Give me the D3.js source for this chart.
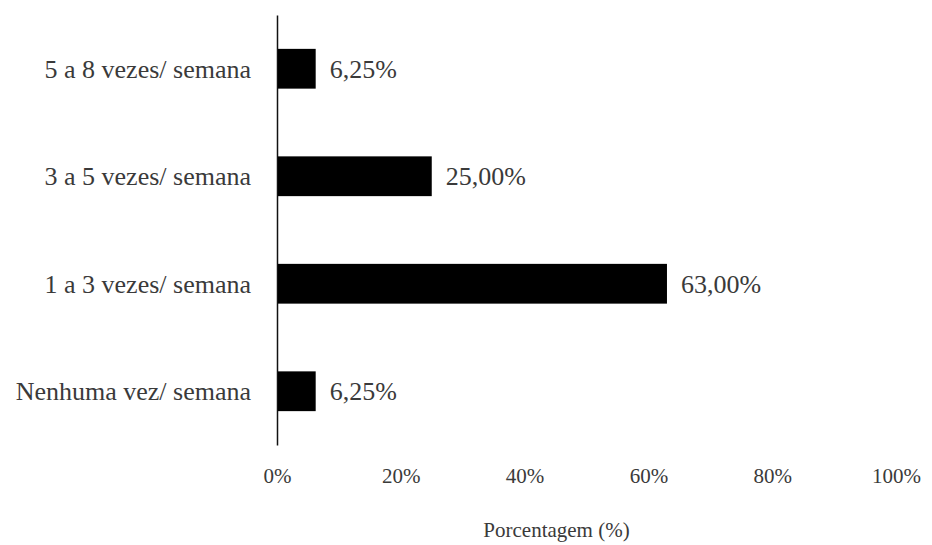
<!DOCTYPE html>
<html>
<head>
<meta charset="utf-8">
<script src="https://cdn.jsdelivr.net/npm/d3@7"></script>
</head>
<body style="margin:0; background:#fff">
<div id="chart"></div>
<script>
// DATA
const categories = [
  "5 a 8 vezes/ semana",
  "3 a 5 vezes/ semana",
  "1 a 3 vezes/ semana",
  "Nenhuma vez/ semana"
];
const values = [6.25, 25.0, 63.0, 6.25];
const xTicks = [0, 20, 40, 60, 80, 100];
const xTitle = "Porcentagem (%)";

const WIDTH = 932;
const HEIGHT = 545;
const FONT = '"Liberation Serif"';
const TEXT_COLOR = "#3a3a3a";

const ptFormat = d3.formatLocale({ decimal: ",", thousands: ".", grouping: [3], currency: ["", ""] }).format(".2f");

function styleText(sel, size) {
  sel
    .style("font-family", FONT)
    .style("font-size", size)
    .style("fill", TEXT_COLOR);
}

// CANVAS
const svg = d3
  .select("#chart")
  .append("svg")
  .attr("width", WIDTH)
  .attr("height", HEIGHT);

// SCALE
const x = d3.scaleLinear().domain([0, 100]).range([277, 896]);
const y = d3
  .scaleBand()
  .domain(categories)
  .range([15, 445])
  .paddingInner(0.63)
  .paddingOuter(0.315);

// AXIS
svg
  .append("g")
  .attr("class", "xAxis")
  .attr("transform", "translate(0, 445)")
  .call(d3.axisBottom(x).tickValues(xTicks).tickSize(0).tickPadding(23).tickFormat((d) => d + "%"))
  .call((g) => g.select(".domain").remove())
  .selectAll("text")
  .call(styleText, "21px");

svg
  .append("g")
  .attr("class", "yAxis")
  .attr("transform", "translate(277, 0)")
  .call(d3.axisLeft(y).tickSize(0).tickSizeOuter(0).tickPadding(26))
  .call((g) => g.select(".domain").attr("stroke", "#111").attr("stroke-width", 1.5))
  .selectAll("text")
  .attr("dy", "0.35em")
  .call(styleText, "26px");

// ELEMENTS
const rows = categories.map((c, i) => ({ cat: c, val: values[i] }));

svg
  .selectAll(".bar")
  .data(rows)
  .enter()
  .append("rect")
  .attr("class", "bar")
  .attr("x", x(0) + 1)
  .attr("y", (d) => y(d.cat))
  .attr("width", (d) => x(d.val) - x(0) - 1)
  .attr("height", y.bandwidth())
  .attr("fill", "#000");

svg
  .selectAll(".val")
  .data(rows)
  .enter()
  .append("text")
  .attr("class", "val")
  .attr("x", (d) => x(d.val) + 14)
  .attr("y", (d) => y(d.cat) + y.bandwidth() / 2)
  .attr("dy", "0.35em")
  .text((d) => ptFormat(d.val) + "%")
  .call(styleText, "26px");

// LABEL
svg
  .append("text")
  .attr("x", (x(0) + x(100)) / 2 - 30)
  .attr("y", 537)
  .attr("text-anchor", "middle")
  .text(xTitle)
  .call(styleText, "21px");
</script>
</body>
</html>
